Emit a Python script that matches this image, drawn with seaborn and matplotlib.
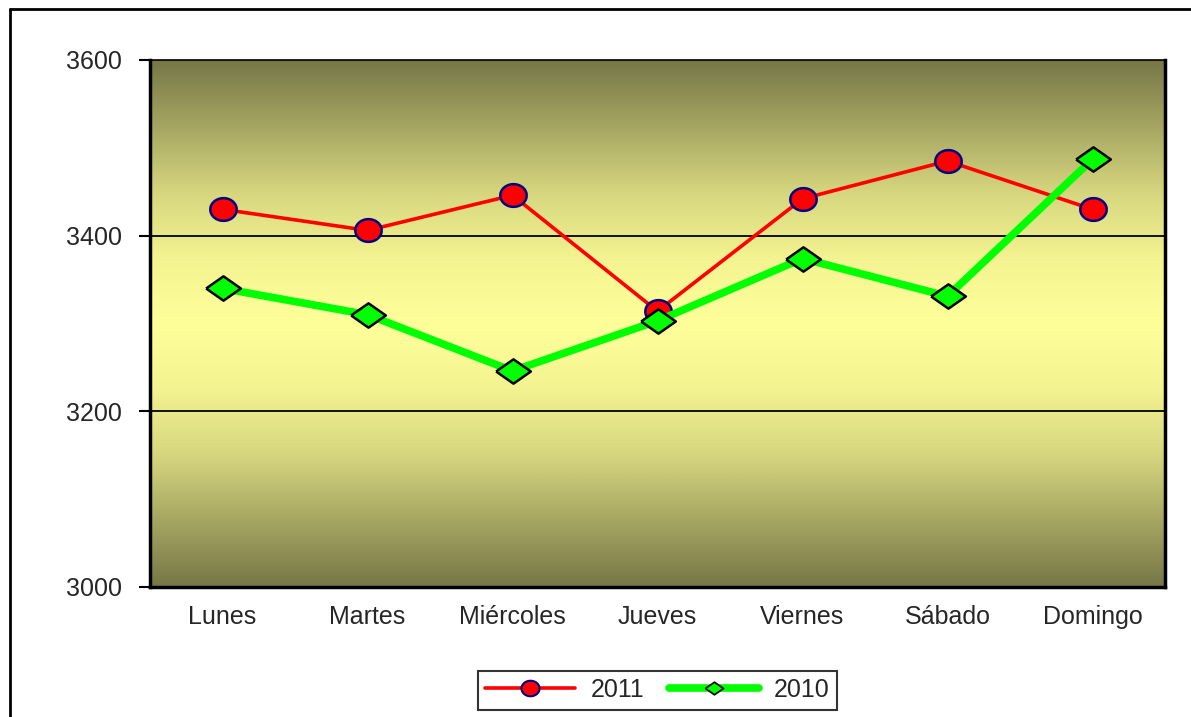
import numpy as np
import pandas as pd
import matplotlib
matplotlib.use('Agg')
import matplotlib.pyplot as plt
import seaborn as sns
from matplotlib.colors import LinearSegmentedColormap
from matplotlib.lines import Line2D

sns.set_style('white')
plt.rcParams['font.family'] = ['Liberation Sans', 'DejaVu Sans']

dias = ['Lunes', 'Martes', 'Miércoles', 'Jueves', 'Viernes', 'Sábado', 'Domingo']
v2011 = [3430, 3406, 3446, 3314, 3442, 3485, 3430]
v2010 = [3340, 3310, 3246, 3303, 3374, 3331, 3487]
yticks = [3000, 3200, 3400, 3600]

df = pd.DataFrame({'dia': dias, '2011': v2011, '2010': v2010})

# wide diamond and slightly flattened circle, like the original markers
diamond = [(-1, 0), (0, 0.7), (1, 0), (0, -0.7), (-1, 0)]
t = np.linspace(0, 2 * np.pi, 60)
ellipse = list(zip(np.cos(t), 0.86 * np.sin(t)))

fig = plt.figure(figsize=(11.91, 7.17), dpi=100)
ax = fig.add_axes([150 / 1191, 130 / 717, 1015 / 1191, 527 / 717])

# gradient background: olive at top/bottom, pale yellow in the middle
cmap = LinearSegmentedColormap.from_list(
    'bg', ['#777747', '#a6a662', '#d6d67f', '#f3f391', '#ffff9a',
           '#f3f391', '#d6d67f', '#a6a662', '#777747'])
grad = np.linspace(0, 1, 256).reshape(-1, 1)
ax.imshow(grad, cmap=cmap, extent=[-0.5, 6.5, 3000, 3600], aspect='auto', zorder=0, interpolation='bicubic')

for y in [3200, 3400]:
    ax.axhline(y, color='black', lw=1.3, zorder=1)

sns.lineplot(data=df, x='dia', y='2010', ax=ax, color='#00ff00', lw=5.5, marker=diamond,
             markersize=25, markerfacecolor='#00ff00', markeredgecolor='black', markeredgewidth=1.8,
             zorder=3)
sns.lineplot(data=df, x='dia', y='2011', ax=ax, color='#ff0000', lw=2.6, marker=ellipse,
             markersize=19, markerfacecolor='#ff0000', markeredgecolor='#000080', markeredgewidth=1.8,
             zorder=2)

ax.set_xlim(-0.5, 6.5)
ax.set_ylim(3000, 3600)
ax.set_yticks(yticks)
ax.set_yticklabels([str(t) for t in yticks], fontsize=18)
ax.set_xticks(range(len(dias)))
ax.set_xticklabels(dias, fontsize=18)
ax.set_xticks(np.arange(-0.5, 7, 1), minor=True)
ax.tick_params(axis='x', which='major', length=0, pad=13)
ax.tick_params(axis='x', which='minor', direction='out', length=8, width=1.5, color='black')
ax.tick_params(axis='y', direction='out', length=8, width=1.5, color='black', left=True, pad=12)
ax.set(xlabel='', ylabel='')

for s in ['left', 'bottom', 'right']:
    ax.spines[s].set_linewidth(2.5)
    ax.spines[s].set_color('black')
ax.spines['top'].set_linewidth(1.2)
ax.spines['top'].set_color('black')

handles = [
    Line2D([], [], color='#ff0000', lw=2.6, marker=ellipse, markersize=13,
           markerfacecolor='#ff0000', markeredgecolor='#000080', markeredgewidth=1.5),
    Line2D([], [], color='#00ff00', lw=5.5, marker=diamond, markersize=13,
           markerfacecolor='#00ff00', markeredgecolor='black', markeredgewidth=1.2),
]
leg = ax.legend(handles, ['2011', '2010'], loc='upper center', bbox_to_anchor=(0.5, -0.135),
                ncol=2, fontsize=18, frameon=True, fancybox=False, handlelength=3.6,
                columnspacing=1.0, borderpad=0.3, edgecolor='black', handletextpad=0.6)
leg.get_frame().set_linewidth(1.5)

# outer chart frame
fig.add_artist(Line2D([10 / 1191, 10 / 1191], [0, 1 - 9 / 717], color='black', lw=2, transform=fig.transFigure))
fig.add_artist(Line2D([10 / 1191, 1.01], [1 - 9 / 717, 1 - 9 / 717], color='black', lw=2, transform=fig.transFigure))

fig.savefig('out.png', dpi=100)
